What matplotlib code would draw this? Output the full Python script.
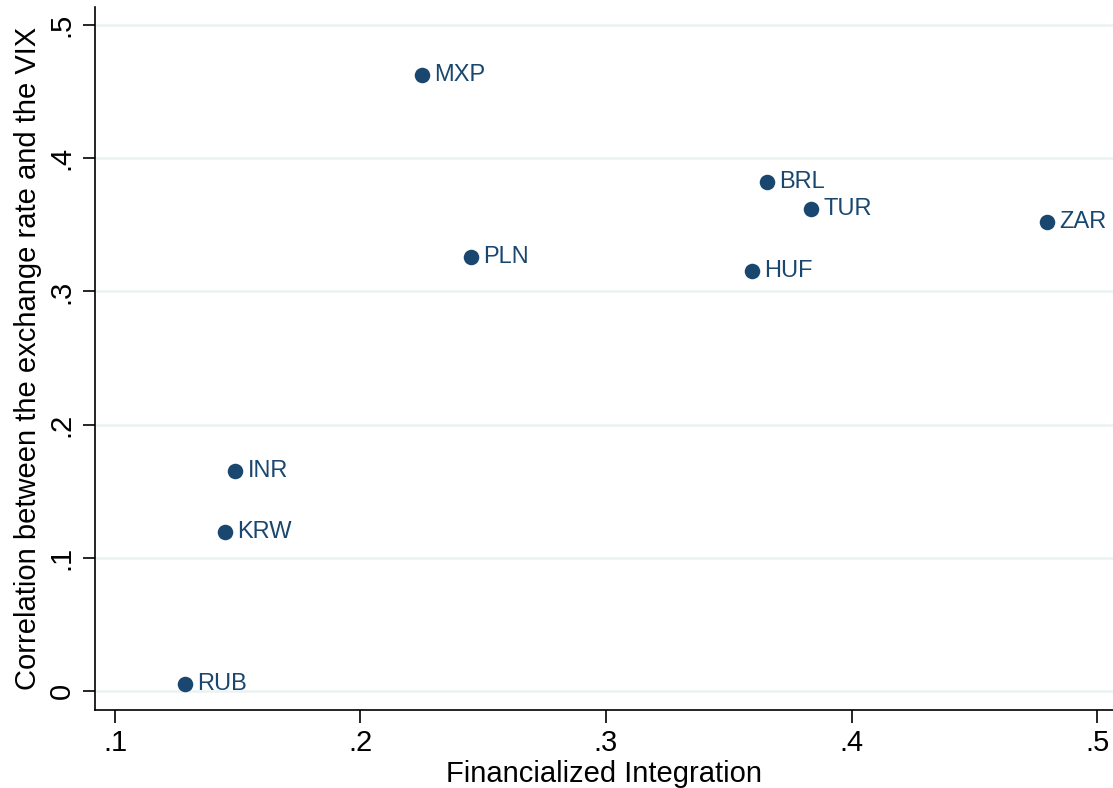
import matplotlib
matplotlib.use("Agg")
import matplotlib.pyplot as plt

plt.rcParams['font.family'] = ['Liberation Sans', 'DejaVu Sans']

currencies = ["MXP", "BRL", "TUR", "ZAR", "PLN", "HUF", "INR", "KRW", "RUB"]
fin_integration = [0.225, 0.3656, 0.3835, 0.4796, 0.245, 0.3595, 0.1489, 0.1448, 0.1285]
corr_vix = [0.4625, 0.382, 0.362, 0.352, 0.326, 0.315, 0.165, 0.119, 0.005]
x_ticks = [0.1, 0.2, 0.3, 0.4, 0.5]
x_ticklabels = [".1", ".2", ".3", ".4", ".5"]
y_ticks = [0.0, 0.1, 0.2, 0.3, 0.4, 0.5]
y_ticklabels = ["0", ".1", ".2", ".3", ".4", ".5"]

navy = "#1a476f"

fig = plt.figure(figsize=(11.13, 7.88), dpi=100)
ax = fig.add_axes([0.0854, 0.099, 0.9146, 0.892])

ax.scatter(fin_integration, corr_vix, s=125, color=navy, zorder=3, linewidths=0)
for x, y, lab in zip(fin_integration, corr_vix, currencies):
    ax.annotate(lab, (x, y), xytext=(9, 0), textcoords="offset points",
                ha="left", va="center", fontsize=17, color=navy)

ax.set_xlim(0.0919, 0.5065)
ax.set_ylim(-0.0143, 0.5135)
ax.set_xticks(x_ticks)
ax.set_xticklabels(x_ticklabels)
ax.set_yticks(y_ticks)
ax.set_yticklabels(y_ticklabels, rotation=90, va="center")
ax.tick_params(axis="both", labelsize=21, length=9, width=1.2, direction="out", pad=5)
ax.yaxis.grid(True, color="#eaf2f3", linewidth=1.8, zorder=0)
ax.set_axisbelow(True)
for s in ["top", "right"]:
    ax.spines[s].set_visible(False)
for s in ["left", "bottom"]:
    ax.spines[s].set_linewidth(1.2)

ax.set_xlabel("Financialized Integration", fontsize=21, labelpad=2)
ax.set_ylabel("Correlation between the exchange rate and the VIX", fontsize=21, labelpad=4)

fig.savefig("out.png", dpi=100)
